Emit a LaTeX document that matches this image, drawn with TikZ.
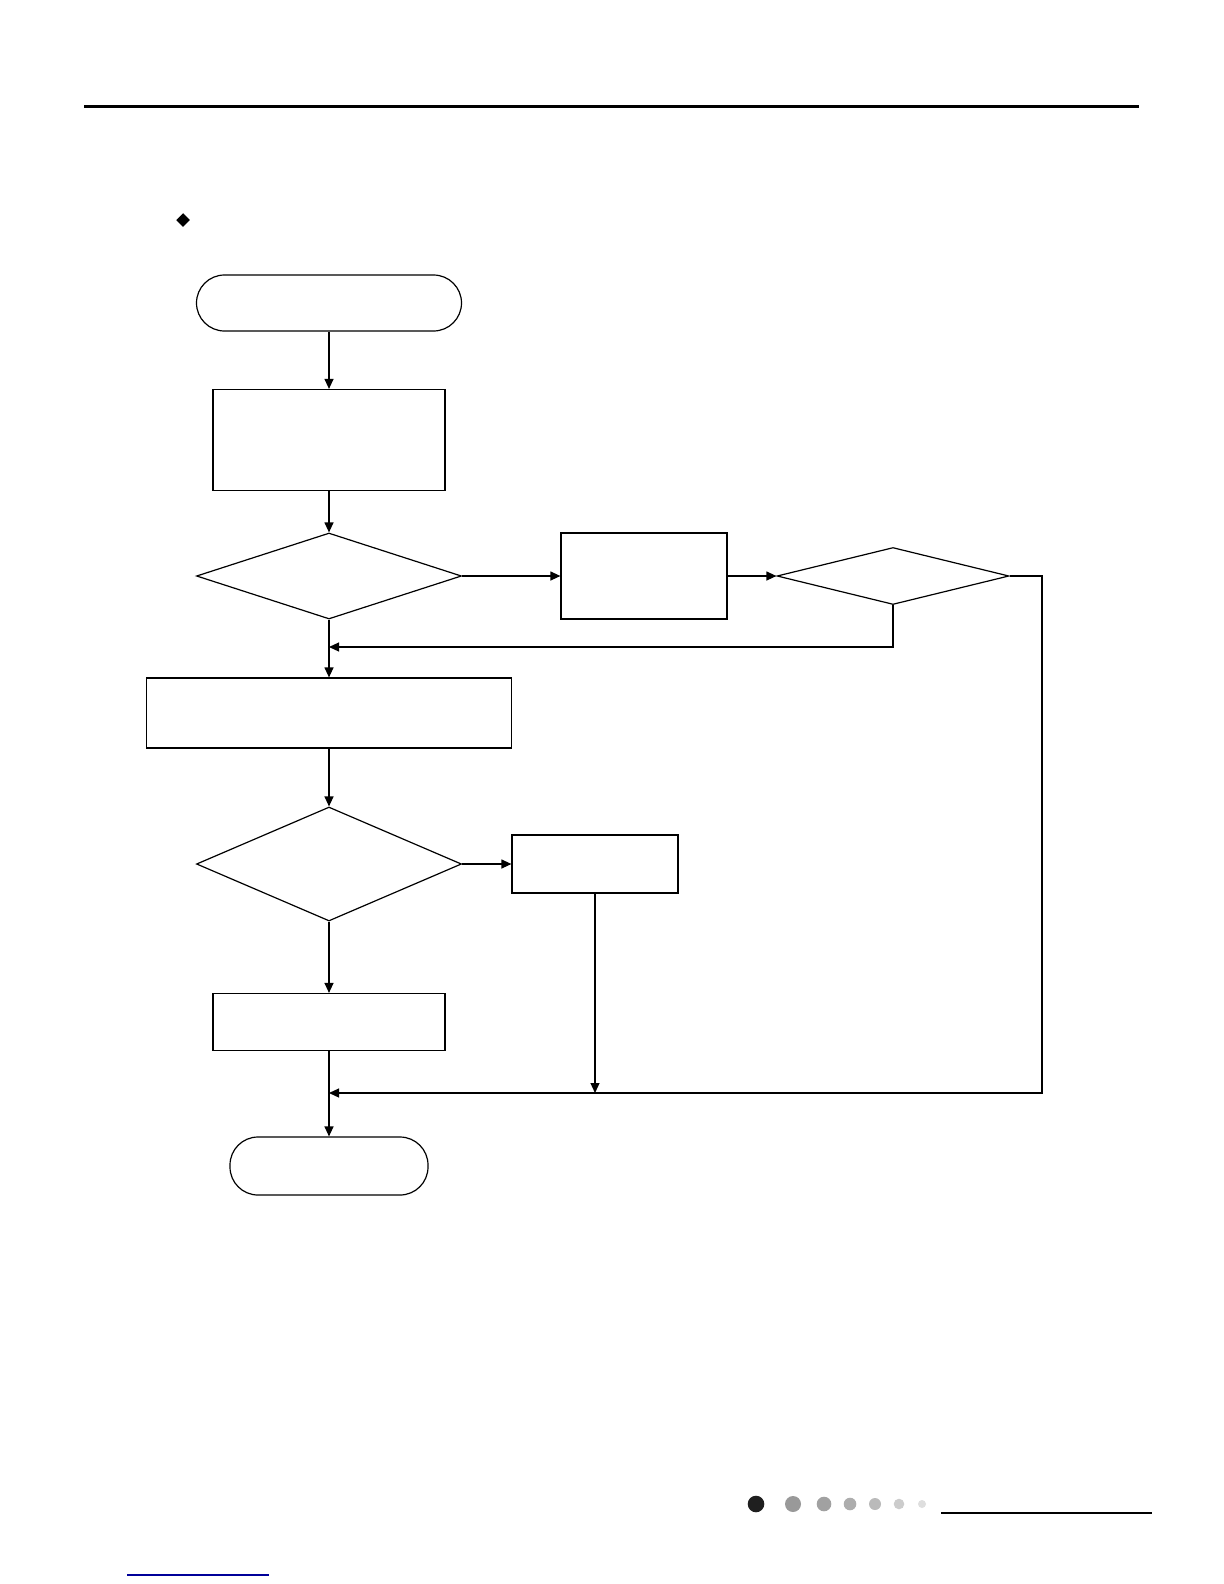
\documentclass[tikz,border=0pt]{standalone}
\usepackage{tikz}
\usetikzlibrary{positioning,shapes.geometric,arrows.meta}

\begin{document}
\begin{tikzpicture}[x=0.5pt,y=-0.5pt,line width=0.6pt,
  box/.style={draw,rectangle,inner sep=0pt},
  term/.style={draw,rectangle,rounded corners=14pt,inner sep=0pt},
  test/.style={draw,diamond,inner sep=0pt},
  flow/.style={-{Triangle[length=5pt,width=4.5pt]}}]
  \useasboundingbox (0,0) rectangle (1224,1584);
  % page header
  \draw[line width=1.5pt] (84,107) -- (1139,107);
  \node[fill,diamond,inner sep=0pt,minimum width=7pt,minimum height=7pt] (bullet) at (183,220) {};
  % main column
  \node[term,minimum width=132.5pt,minimum height=28pt] (start) at (329,303) {};
  \node[box,minimum width=116pt,minimum height=50.5pt] (init) at (329,440) {};
  \node[test,minimum width=132.5pt,minimum height=43pt] (ask1) at (329,576) {};
  \node[box,minimum width=182.5pt,minimum height=35pt] (run) at (329,713) {};
  \node[test,minimum width=132.5pt,minimum height=57pt] (ask2) at (329,864) {};
  \node[box,minimum width=116pt,minimum height=28.5pt] (done) at (329,1022) {};
  \node[term,minimum width=99pt,minimum height=29pt] (stop) at (329,1166) {};
  % side branch
  \node[box,minimum width=83pt,minimum height=43pt] (fix) at (644,576) {};
  \node[test,minimum width=116pt,minimum height=28.5pt] (ask3) at (893,576) {};
  \node[box,minimum width=83pt,minimum height=29pt] (warn) at (595,864) {};
  \coordinate (back) at (329,647);
  \coordinate (merge) at (329,1093);
  \coordinate (edge) at (1042,1093);
  % connectors
  \draw[flow] (start) -- (init);
  \draw[flow] (init) -- (ask1);
  \draw[flow] (ask1) -- (fix);
  \draw[flow] (fix) -- (ask3);
  \draw[flow] (ask1) -- (run);
  \draw[flow] (ask3.south) |- (back);
  \draw[flow] (run) -- (ask2);
  \draw[flow] (ask2) -- (warn);
  \draw[flow] (ask2) -- (done);
  \draw[flow] (done) -- (stop);
  \draw[flow] (warn.south) -- (warn.south |- merge);
  \draw[flow] (ask3.east) -| (edge) -- (merge);
  % page footer
  \foreach \cx/\r/\c in {756/8.3/black!88,793/8/black!40,824/7.3/black!37,850/6.3/black!32,875/6/black!27,899/5.3/black!20,922/4/black!13}
    \fill[\c] (\cx,1504) circle[radius=\r*0.5pt];
  \draw[line width=1pt] (941,1513) -- (1152,1513);
  \draw[blue!60!black,line width=0.7pt] (127,1575) -- (269,1575);
\end{tikzpicture}
\end{document}
